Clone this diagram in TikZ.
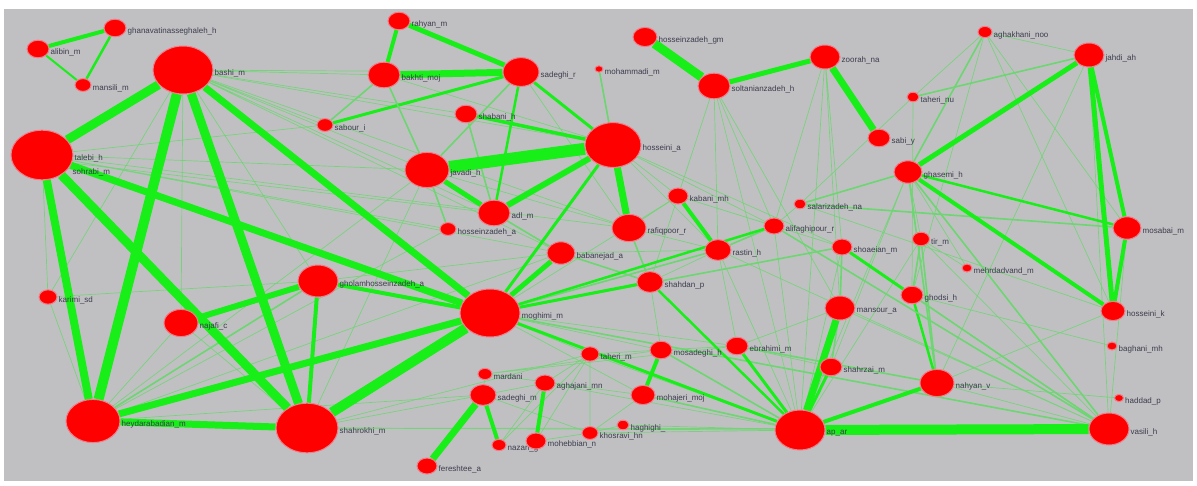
\documentclass[tikz,border=0pt]{standalone}
\usepackage{fontspec}
\setsansfont{Liberation Sans}
\usetikzlibrary{shapes.geometric}
\definecolor{paper}{RGB}{192,192,194}
\definecolor{halo}{RGB}{236,128,140}
\definecolor{linkgreen}{RGB}{24,238,24}
\definecolor{weakgreen}{RGB}{108,214,112}
\definecolor{labelgray}{RGB}{60,60,78}
\pgfdeclarelayer{bg}
\pgfdeclarelayer{edges}
\pgfsetlayers{bg,edges,main}
\tikzset{
  ball/.style={ellipse, fill=red, draw=halo, line width=1pt, inner sep=0pt,
    minimum width=#1pt, minimum height=0.8*#1pt},
  lbl/.style={anchor=west, inner sep=1pt, text=labelgray,
    font=\sffamily\fontsize{8}{9}\selectfont},
  tie/.style={draw=linkgreen, line width=#1pt},
  weak/.style={draw=weakgreen, line width=1.6pt},
  faint/.style={draw=weakgreen, line width=0.7pt, opacity=0.85}
}
\begin{document}
\begin{tikzpicture}[x=1pt, y=-1pt]
\useasboundingbox (0,0) rectangle (1197,485);
\begin{pgfonlayer}{bg}
  \fill[paper] (4,9) rectangle (1193,481);
\end{pgfonlayer}
% people
\node[ball=22] (gha) at (115,28) {};
\node[lbl] (gha-l) at ([yshift=-3pt]gha.east) {ghanavatinasseghaleh\_h};
\node[ball=22] (ali) at (38,49) {};
\node[lbl] (ali-l) at ([yshift=-3pt]ali.east) {alibin\_m};
\node[ball=16] (man) at (83,85) {};
\node[lbl] (man-l) at ([yshift=-3pt]man.east) {mansili\_m};
\node[ball=60] (bas) at (183,70) {};
\node[lbl] (bas-l) at ([yshift=-3pt]bas.east) {bashi\_m};
\node[ball=62] (tal) at (42,155) {};
\node[lbl] (tal-l) at ([yshift=-3pt]tal.east) {talebi\_h};
\node[ball=34, draw=red] (soh) at (46,160) {};
\node[lbl] (soh-l) at ([xshift=8pt,yshift=-12pt]soh.east) {sohrabi\_m};
\node[ball=22] (rah) at (399,21) {};
\node[lbl] (rah-l) at ([yshift=-3pt]rah.east) {rahyan\_m};
\node[ball=32] (bak) at (384,75) {};
\node[lbl] (bak-l) at ([yshift=-3pt]bak.east) {bakhti\_moj};
\node[ball=36] (sar) at (521,72) {};
\node[lbl] (sar-l) at ([yshift=-3pt]sar.east) {sadeghi\_r};
\node[ball=8] (moh) at (599,69) {};
\node[lbl] (moh-l) at ([yshift=-3pt]moh.east) {mohammadi\_m};
\node[ball=24] (hgm) at (645,37) {};
\node[lbl] (hgm-l) at ([yshift=-3pt]hgm.east) {hosseinzadeh\_gm};
\node[ball=32] (sol) at (714,86) {};
\node[lbl] (sol-l) at ([yshift=-3pt]sol.east) {soltanianzadeh\_h};
\node[ball=30] (zoo) at (825,57) {};
\node[lbl] (zoo-l) at ([yshift=-3pt]zoo.east) {zoorah\_na};
\node[ball=22] (sab) at (879,138) {};
\node[lbl] (sab-l) at ([yshift=-3pt]sab.east) {sabi\_y};
\node[ball=12] (tah) at (913,97) {};
\node[lbl] (tah-l) at ([yshift=-3pt]tah.east) {taheri\_nu};
\node[ball=14] (agh) at (985,32) {};
\node[lbl] (agh-l) at ([yshift=-3pt]agh.east) {aghakhani\_noo};
\node[ball=30] (jah) at (1089,55) {};
\node[lbl] (jah-l) at ([yshift=-3pt]jah.east) {jahdi\_ah};
\node[ball=28] (ghs) at (908,172) {};
\node[lbl] (ghs-l) at ([yshift=-3pt]ghs.east) {ghasemi\_h};
\node[ball=28] (mos) at (1127,228) {};
\node[lbl] (mos-l) at ([yshift=-3pt]mos.east) {mosabai\_m};
\node[ball=24] (hok) at (1113,311) {};
\node[lbl] (hok-l) at ([yshift=-3pt]hok.east) {hosseini\_k};
\node[ball=10] (bag) at (1112,346) {};
\node[lbl] (bag-l) at ([yshift=-3pt]bag.east) {baghani\_mh};
\node[ball=9] (had) at (1119,398) {};
\node[lbl] (had-l) at ([yshift=-3pt]had.east) {haddad\_p};
\node[ball=40] (vas) at (1109,429) {};
\node[lbl] (vas-l) at ([yshift=-3pt]vas.east) {vasili\_h};
\node[ball=50] (apa) at (800,430) {};
\node[lbl] (apa-l) at ([yshift=-3pt]apa.east) {ap\_ar};
\node[ball=34] (nah) at (937,383) {};
\node[lbl] (nah-l) at ([yshift=-3pt]nah.east) {nahyan\_v};
\node[ball=22] (shz) at (831,367) {};
\node[lbl] (shz-l) at ([yshift=-3pt]shz.east) {shahrzai\_m};
\node[ball=30] (mns) at (840,308) {};
\node[lbl] (mns-l) at ([yshift=-3pt]mns.east) {mansour\_a};
\node[ball=22] (ghd) at (912,295) {};
\node[lbl] (ghd-l) at ([yshift=-3pt]ghd.east) {ghodsi\_h};
\node[ball=10] (meh) at (967,268) {};
\node[lbl] (meh-l) at ([yshift=-3pt]meh.east) {mehrdadvand\_m};
\node[ball=17] (tir) at (921,239) {};
\node[lbl] (tir-l) at ([yshift=-3pt]tir.east) {tir\_m};
\node[ball=20] (sho) at (842,247) {};
\node[lbl] (sho-l) at ([yshift=-3pt]sho.east) {shoaeian\_m};
\node[ball=20] (alf) at (774,226) {};
\node[lbl] (alf-l) at ([yshift=-3pt]alf.east) {alifaghipour\_r};
\node[ball=12] (sal) at (800,204) {};
\node[lbl] (sal-l) at ([yshift=-3pt]sal.east) {salarizadeh\_na};
\node[ball=20] (kab) at (678,196) {};
\node[lbl] (kab-l) at ([yshift=-3pt]kab.east) {kabani\_mh};
\node[ball=26] (ras) at (718,250) {};
\node[lbl] (ras-l) at ([yshift=-3pt]ras.east) {rastin\_h};
\node[ball=26] (shd) at (650,282) {};
\node[lbl] (shd-l) at ([yshift=-3pt]shd.east) {shahdan\_p};
\node[ball=56] (hos) at (613,145) {};
\node[lbl] (hos-l) at ([yshift=-3pt]hos.east) {hosseini\_a};
\node[ball=22] (shb) at (466,114) {};
\node[lbl] (shb-l) at ([yshift=-3pt]shb.east) {shabani\_h};
\node[ball=16] (sbr) at (325,125) {};
\node[lbl] (sbr-l) at ([yshift=-3pt]sbr.east) {sabour\_i};
\node[ball=44] (jav) at (427,170) {};
\node[lbl] (jav-l) at ([yshift=-3pt]jav.east) {javadi\_h};
\node[ball=32] (adl) at (494,213) {};
\node[lbl] (adl-l) at ([yshift=-3pt]adl.east) {adl\_m};
\node[ball=34] (raf) at (629,228) {};
\node[lbl] (raf-l) at ([yshift=-3pt]raf.east) {rafiqpoor\_r};
\node[ball=16] (hza) at (448,229) {};
\node[lbl] (hza-l) at ([yshift=-3pt]hza.east) {hosseinzadeh\_a};
\node[ball=28] (bab) at (561,253) {};
\node[lbl] (bab-l) at ([yshift=-3pt]bab.east) {babanejad\_a};
\node[ball=40] (ghz) at (318,281) {};
\node[lbl] (ghz-l) at ([yshift=-3pt]ghz.east) {gholamhosseinzadeh\_a};
\node[ball=34] (naj) at (181,323) {};
\node[lbl] (naj-l) at ([yshift=-3pt]naj.east) {najafi\_c};
\node[ball=18] (kar) at (48,297) {};
\node[lbl] (kar-l) at ([yshift=-3pt]kar.east) {karimi\_sd};
\node[ball=60] (mog) at (490,313) {};
\node[lbl] (mog-l) at ([yshift=-3pt]mog.east) {moghimi\_m};
\node[ball=54] (hey) at (93,421) {};
\node[lbl] (hey-l) at ([yshift=-3pt]hey.east) {heydarabadian\_m};
\node[ball=62] (shr) at (307,428) {};
\node[lbl] (shr-l) at ([yshift=-3pt]shr.east) {shahrokhi\_m};
\node[ball=14] (mar) at (485,374) {};
\node[lbl] (mar-l) at ([yshift=-3pt]mar.east) {mardani};
\node[ball=26] (sdm) at (483,395) {};
\node[lbl] (sdm-l) at ([yshift=-3pt]sdm.east) {sadeghi\_m};
\node[ball=20] (agj) at (545,383) {};
\node[lbl] (agj-l) at ([yshift=-3pt]agj.east) {aghajani\_mn};
\node[ball=18] (thm) at (590,354) {};
\node[lbl] (thm-l) at ([yshift=-3pt]thm.east) {taheri\_m};
\node[ball=22] (msd) at (661,350) {};
\node[lbl] (msd-l) at ([yshift=-3pt]msd.east) {mosadeghi\_h};
\node[ball=22] (ebr) at (737,346) {};
\node[lbl] (ebr-l) at ([yshift=-3pt]ebr.east) {ebrahimi\_m};
\node[ball=24] (mhj) at (643,395) {};
\node[lbl] (mhj-l) at ([yshift=-3pt]mhj.east) {mohajeri\_moj};
\node[ball=12] (hag) at (623,425) {};
\node[lbl] (hag-l) at ([yshift=-3pt]hag.east) {haghighi\_};
\node[ball=16] (kho) at (590,433) {};
\node[lbl] (kho-l) at ([yshift=-3pt]kho.east) {khosravi\_hn};
\node[ball=14] (naz) at (499,445) {};
\node[lbl] (naz-l) at ([yshift=-3pt]naz.east) {nazari\_g};
\node[ball=20] (mhb) at (536,441) {};
\node[lbl] (mhb-l) at ([yshift=-3pt]mhb.east) {mohebbian\_n};
\node[ball=20] (fer) at (427,466) {};
\node[lbl] (fer-l) at ([yshift=-3pt]fer.east) {fereshtee\_a};
% links
\begin{pgfonlayer}{edges}
\draw[faint] (bas) -- (bak) (bas) -- (sar) (bas) -- (sbr) (bas) -- (jav) (bas) -- (shb);
\draw[faint] (bas) -- (hos) (bas) -- (raf) (bas) -- (bab) (bas) -- (adl) (bas) -- (ghz);
\draw[faint] (tal) -- (jav) (tal) -- (hza) (tal) -- (bab) (tal) -- (raf) (tal) -- (kar);
\draw[faint] (kar) -- (hey) (kar) -- (ghz) (kar) -- (bas) (hey) -- (jav) (hey) -- (naj);
\draw[faint] (hey) -- (bab) (hey) -- (hza) (shr) -- (sdm) (shr) -- (thm) (shr) -- (vas);
\draw[faint] (shr) -- (jav) (shr) -- (naj) (naj) -- (bas) (tal) -- (sbr) (soh) -- (adl);
\draw[faint] (hos) -- (kab) (hos) -- (ras) (hos) -- (alf) (hos) -- (sho) (hos) -- (moh);
\draw[faint] (sol) -- (ras) (sol) -- (shd) (sol) -- (alf) (sol) -- (mns) (sol) -- (apa) (sol) -- (kab);
\draw[faint] (zoo) -- (alf) (zoo) -- (sho) (zoo) -- (apa) (zoo) -- (mns);
\draw[faint] (agh) -- (tah) (agh) -- (mos) (agh) -- (hok) (agh) -- (jah) (agh) -- (ghd);
\draw[faint] (tah) -- (sal) (tah) -- (ghd) (ghs) -- (tir) (ghs) -- (meh) (ghs) -- (apa) (ghs) -- (shz);
\draw[faint] (vas) -- (sho) (vas) -- (mns) (vas) -- (ras) (vas) -- (tir) (vas) -- (nah);
\draw[faint] (apa) -- (ras) (apa) -- (alf) (apa) -- (sho) (apa) -- (tir) (apa) -- (kho) (apa) -- (hag) (apa) -- (thm);
\draw[faint] (sdm) -- (mar) (sdm) -- (agj) (agj) -- (thm) (thm) -- (mhb) (thm) -- (msd) (kho) -- (hag);
\draw[faint] (kho) -- (mhj) (mhb) -- (kho) (naz) -- (agj) (mar) -- (msd) (mar) -- (ebr) (thm) -- (kho);
\draw[faint] (naz) -- (thm) (msd) -- (ebr) (ebr) -- (shz) (ebr) -- (mns) (ebr) -- (ras) (sal) -- (alf);
\draw[faint] (sal) -- (hok) (tir) -- (meh) (kab) -- (alf) (kab) -- (sho) (ras) -- (shd) (shd) -- (msd);
\draw[faint] (bab) -- (ras) (raf) -- (kab) (raf) -- (ras) (adl) -- (bab) (mog) -- (thm) (mog) -- (mhj);
\draw[faint] (shr) -- (apa) (hey) -- (sdm) (mog) -- (ebr) (mog) -- (msd) (mog) -- (kab) (ghz) -- (bab);
\draw[faint] (mar) -- (mhj) (sdm) -- (kho) (agj) -- (apa) (jav) -- (raf) (bak) -- (hos) (sar) -- (raf);
\draw[faint] (jah) -- (nah) (jah) -- (vas) (mos) -- (vas) (hok) -- (nah) (had) -- (nah) (bag) -- (ghd);
\draw[weak] (moh) -- (hos);
\draw[weak] (tah) -- (jah);
\draw[weak] (agh) -- (ghs);
\draw[weak] (ghs) -- (vas);
\draw[weak] (ghs) -- (sal);
\draw[weak] (ghs) -- (nah);
\draw[tie=3] (sho) -- (ghd);
\draw[weak] (tir) -- (ghd);
\draw[weak] (tir) -- (nah);
\draw[weak] (mns) -- (shz);
\draw[weak] (sho) -- (mns);
\draw[tie=2.5] (ghd) -- (nah);
\draw[weak] (ghd) -- (vas);
\draw[weak] (alf) -- (vas);
\draw[weak] (ras) -- (alf);
\draw[tie=3] (sar) -- (sbr);
\draw[tie=2.5] (sar) -- (adl);
\draw[weak] (sar) -- (jav);
\draw[weak] (bak) -- (sbr);
\draw[weak] (bak) -- (jav);
\draw[weak] (jav) -- (hza);
\draw[weak] (shb) -- (adl);
\draw[weak] (bab) -- (adl);
\draw[weak] (bab) -- (shd);
\draw[weak] (raf) -- (shd);
\draw[weak] (mog) -- (ras);
\draw[tie=2.5] (mog) -- (alf);
\draw[weak] (mog) -- (sho);
\draw[tie=3] (mog) -- (apa);
\draw[weak] (mog) -- (vas);
\draw[weak] (msd) -- (apa);
\draw[weak] (ebr) -- (nah);
\draw[weak] (mhj) -- (apa);
\draw[tie=2.5] (shd) -- (apa);
\draw[weak] (sal) -- (mos);
\draw[weak] (hey) -- (ghz);
\draw[weak] (soh) -- (mog);
\draw[tie=4] (gha) -- (ali);
\draw[tie=2.5] (gha) -- (man);
\draw[tie=2] (ali) -- (man);
\draw[tie=10] (bas) -- (hey);
\draw[tie=9] (bas) -- (shr);
\draw[tie=9] (bas) -- (tal);
\draw[tie=7] (bas) -- (mog);
\draw[tie=8] (tal) -- (hey);
\draw[tie=9] (tal) -- (shr);
\draw[tie=7] (tal) -- (mog);
\draw[tie=7] (hey) -- (mog);
\draw[tie=7] (hey) -- (shr);
\draw[tie=10] (shr) -- (mog);
\draw[tie=6] (naj) -- (ghz);
\draw[tie=4] (ghz) -- (mog);
\draw[tie=4] (ghz) -- (shr);
\draw[tie=12] (jav) -- (hos);
\draw[tie=6] (hos) -- (adl);
\draw[tie=7] (hos) -- (raf);
\draw[tie=5] (jav) -- (adl);
\draw[tie=3.5] (hos) -- (shb);
\draw[tie=3] (hos) -- (sar);
\draw[tie=7] (sar) -- (bak);
\draw[tie=5] (sar) -- (rah);
\draw[tie=4] (bak) -- (rah);
\draw[tie=9] (hgm) -- (sol);
\draw[tie=5] (sol) -- (zoo);
\draw[tie=7] (zoo) -- (sab);
\draw[tie=5] (jah) -- (ghs);
\draw[tie=5] (jah) -- (hok);
\draw[tie=4] (jah) -- (mos);
\draw[tie=4] (mos) -- (hok);
\draw[tie=4] (ghs) -- (hok);
\draw[tie=2.5] (ghs) -- (mos);
\draw[tie=10] (apa) -- (vas);
\draw[tie=7] (apa) -- (mns);
\draw[tie=4] (apa) -- (nah);
\draw[tie=3] (apa) -- (ebr);
\draw[tie=3] (apa) -- (shz);
\draw[tie=7] (sdm) -- (fer);
\draw[tie=4] (sdm) -- (naz);
\draw[tie=4] (agj) -- (mhb);
\draw[tie=4] (msd) -- (mhj);
\draw[tie=4] (kab) -- (ras);
\draw[tie=5] (mog) -- (bab);
\draw[tie=3] (mog) -- (hos);
\draw[tie=3] (mog) -- (shd);
\end{pgfonlayer}
\end{tikzpicture}
\end{document}
